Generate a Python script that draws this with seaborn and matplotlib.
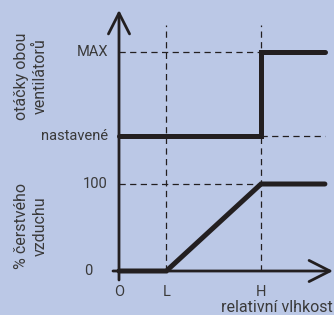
import matplotlib
matplotlib.use("Agg")
import matplotlib.pyplot as plt
import seaborn as sns
import pandas as pd

# ---- data ----
x_tick_labels = ["O", "L", "H"]
x_tick_values = [0, 20, 60]
x_end = 87
x_axis_label = "relativní vlhkost"

fresh_air_x = [0, 20, 60, 87]
fresh_air_pct = [0, 0, 100, 100]
fresh_air_ticks = [0, 100]
fresh_air_label = "% čerstvého\nvzduchu"

fan_x = [0, 60, 60, 87]
fan_state = ["nastavené", "nastavené", "MAX", "MAX"]
fan_levels = {"nastavené": 155, "MAX": 252}
fan_label = "otáčky obou\nventilátorů"

# ---- style ----
BG = "#bbc8e6"
INK = "#231f20"
TXT = "#3a3a3a"
plt.rcParams["font.family"] = ["Roboto", "DejaVu Sans"]

W, H = 334, 315
ox, oy = 119, 271          # pixel position of origin
sx = (261 - 119) / 60.0     # px per x unit
sy = (271 - 184) / 100.0    # px per y unit

def px(x):
    return (x - ox) / sx

def py(y):
    return (oy - y) / sy

fig = plt.figure(figsize=(W / 100, H / 100), dpi=100, facecolor=BG)
ax = fig.add_axes([0, 0, 1, 1])
ax.set_facecolor(BG)

dash = dict(color=INK, lw=0.9, ls=(0, (5, 3.5)))

# data curves
df_air = pd.DataFrame({"x": fresh_air_x, "y": fresh_air_pct})
df_fan = pd.DataFrame({"x": fan_x, "y": [fan_levels[s] for s in fan_state]})
sns.lineplot(data=df_air, x="x", y="y", sort=False, estimator=None, ax=ax,
             color=INK, lw=3.6, solid_capstyle="round", solid_joinstyle="miter", zorder=3)
sns.lineplot(data=df_fan, x="x", y="y", sort=False, estimator=None, ax=ax,
             color=INK, lw=3.6, solid_capstyle="round", solid_joinstyle="miter", zorder=3)

ax.set_xlim(px(0), px(W))
ax.set_ylim(py(H), py(0))
ax.axis("off")

# guide lines
for xv in x_tick_values[1:]:
    ax.plot([xv, xv], [py(271), py(25)], **dash, zorder=1)
ax.plot([0, 60], [fan_levels["MAX"]] * 2, **dash, zorder=1)
ax.plot([0, 60], [100, 100], **dash, zorder=1)
ax.plot([60, x_end], [fan_levels["nastavené"]] * 2, **dash, zorder=1)

# axes arrows
arrow = dict(arrowstyle="->,head_length=0.75,head_width=0.38", lw=2.0,
             color=INK, mutation_scale=20, shrinkA=0, shrinkB=0)
ax.annotate("", xy=(0, py(10)), xytext=(0, py(280)), arrowprops=arrow, zorder=4)
ax.annotate("", xy=(px(333), 0), xytext=(px(113), 0), arrowprops=arrow, zorder=4)

fs = 10.5
fs2 = 11.5
tk = dict(fontsize=fs, color=TXT)
# y tick labels
ax.text(px(108), fan_levels["MAX"], "MAX", ha="right", va="center", **tk)
ax.text(px(108), fan_levels["nastavené"], "nastavené", ha="right", va="center", **tk)
ax.text(px(108), 100, str(fresh_air_ticks[1]), ha="right", va="center", **tk)
ax.text(px(92), 0, str(fresh_air_ticks[0]), ha="right", va="center", **tk)

# x tick labels
for lab, xv in zip(x_tick_labels, x_tick_values):
    ax.text(xv, py(292), lab, ha="center", va="center", **tk)
ax.text(px(333), py(308), x_axis_label, ha="right", va="center",
        fontsize=fs2, color=TXT)

# rotated axis titles
ax.text(px(31), py(76), fan_label, rotation=90, ha="center", va="center",
        fontsize=fs2, color=TXT, multialignment="center", linespacing=1.35)
ax.text(px(31), py(226), fresh_air_label, rotation=90, ha="center", va="center",
        fontsize=fs2, color=TXT, multialignment="center", linespacing=1.35)

fig.savefig("out.png", dpi=100, facecolor=BG)
